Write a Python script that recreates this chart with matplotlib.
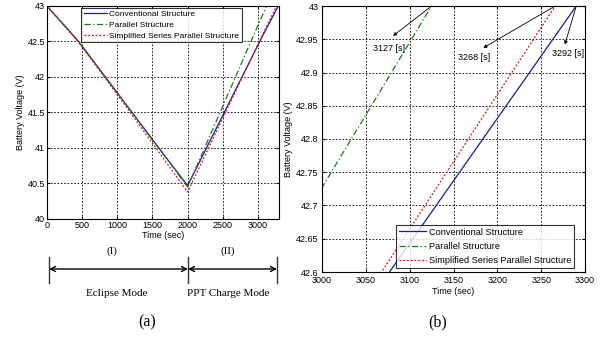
import matplotlib
matplotlib.use("Agg")
import matplotlib.pyplot as plt
import matplotlib.patches as mpatches
from matplotlib.ticker import FuncFormatter

# ---- data ----
conv_t = [0, 450, 830, 1210, 1590, 2000, 3077, 3290]
conv_v = [43.0, 42.5, 42.0, 41.5, 41.0, 40.47, 42.6, 43.0]
par_t = [0, 450, 830, 1210, 1590, 2000, 3000, 3125]
par_v = [43.0, 42.5, 42.0, 41.5, 41.0, 40.45, 42.727, 43.0]
ssp_t = [0, 440, 815, 1185, 1550, 2000, 3068, 3266]
ssp_v = [43.0, 42.5, 42.0, 41.5, 41.0, 40.38, 42.6, 43.0]

series_names = ["Conventional Structure", "Parallel Structure",
                "Simplified Series Parallel Structure"]

xticks_a = [0, 500, 1000, 1500, 2000, 2500, 3000]
yticks_a = [40, 40.5, 41, 41.5, 42, 42.5, 43]
xticks_b = [3000, 3050, 3100, 3150, 3200, 3250, 3300]
yticks_b = [42.6, 42.65, 42.7, 42.75, 42.8, 42.85, 42.9, 42.95, 43]

end_labels = ["3127 [s]", "3268 [s]", "3292 [s]"]

plt.rcParams['font.family'] = ['Liberation Sans', 'DejaVu Sans']

W, H = 600, 339
fig = plt.figure(figsize=(6, 3.39), dpi=100)

def px(x0, y0, x1, y1):
    return [x0 / W, 1 - y1 / H, (x1 - x0) / W, (y1 - y0) / H]

ax1 = fig.add_axes(px(47, 6, 279, 219))
ax2 = fig.add_axes(px(322, 6, 585, 272))

styles = [dict(color='#1a1aa0', ls='-', lw=0.9),
          dict(color='#1a7a1a', ls=(0, (5, 2, 1, 2)), lw=0.9),
          dict(color='#e01010', ls=(0, (1.5, 1.5)), lw=0.9)]
data = [(conv_t, conv_v), (par_t, par_v), (ssp_t, ssp_v)]

fmt = FuncFormatter(lambda v, p: f"{v:g}")
for ax in (ax1, ax2):
    for (t, v), st, nm in zip(data, styles, series_names):
        ax.plot(t, v, label=nm, **st)
    ax.grid(True, color='black', linestyle=(0, (2, 2)), linewidth=0.6)
    ax.tick_params(labelsize=6.5, direction='in', length=2, pad=1.5,
                   top=True, right=True)
    ax.yaxis.set_major_formatter(fmt)
    ax.set_xlabel("Time (sec)", fontsize=6.5, labelpad=1)
    ax.set_ylabel("Battery Voltage (V)", fontsize=6.5, labelpad=2)
    for s in ax.spines.values():
        s.set_linewidth(0.8)

ax1.set_xlim(0, 3300)
ax1.set_ylim(40, 43)
ax1.set_xticks(xticks_a)
ax1.set_yticks(yticks_a)
ax2.set_xlim(3000, 3300)
ax2.set_ylim(42.6, 43)
ax2.set_xticks(xticks_b)
ax2.set_yticks(yticks_b)
ax2.tick_params(axis='y', pad=2.5)
ax2.tick_params(axis='x', pad=3)

leg_kw = dict(frameon=True, fancybox=False, edgecolor='black',
              handletextpad=0.3, borderpad=0.3, borderaxespad=0.2)
l1 = ax1.legend(loc='upper left', bbox_to_anchor=(0.14, 1.0), fontsize=6,
                handlelength=2.8, labelspacing=0.35, **leg_kw)
l2 = ax2.legend(loc='lower right', bbox_to_anchor=(0.965, 0.01), fontsize=6.6,
                handlelength=3.0, labelspacing=0.55, **leg_kw)
for l in (l1, l2):
    l.get_frame().set_linewidth(0.8)

# annotations in panel (b)
ends = [(par_t[-1], par_v[-1]), (ssp_t[-1], ssp_v[-1]), (conv_t[-1], conv_v[-1])]
text_pos = [(3058, 42.943), (3155, 42.93), (3262, 42.936)]
arrow_tips = [(3081, 42.955), (3184, 42.937), (3277, 42.942)]
for (ex, ey), (tx, ty), (ax_, ay_), lab in zip(ends, text_pos, arrow_tips, end_labels):
    ax2.annotate("", xy=(ax_, ay_), xytext=(ex, ey),
                 arrowprops=dict(arrowstyle='-|>', color='black', lw=0.6,
                                 mutation_scale=5, shrinkA=0, shrinkB=0),
                 annotation_clip=False)
    ax2.text(tx, ty, lab, fontsize=6.5, ha='left', va='top')

# mode annotations below panel (a)
serif = ['Liberation Serif', 'DejaVu Serif']
fig.text(112 / W, 1 - 251 / H, "(I)", family=serif, fontsize=8, ha='center', va='center')
fig.text(228 / W, 1 - 251 / H, "(II)", family=serif, fontsize=8, ha='center', va='center')
for xb in (49, 188, 277):
    fig.add_artist(plt.Line2D([xb / W, xb / W], [1 - 257 / H, 1 - 283 / H],
                              color='#333333', lw=1.0))
for x0, x1 in ((49, 188), (188, 277)):
    fig.add_artist(mpatches.FancyArrowPatch(
        (x0 / W, 1 - 269 / H), (x1 / W, 1 - 269 / H),
        transform=fig.transFigure, arrowstyle='<->', mutation_scale=9,
        color='black', lw=1.0, shrinkA=0, shrinkB=0))
fig.text(117 / W, 1 - 294 / H, "Eclipse Mode", family=serif, fontsize=8, ha='center', va='center')
fig.text(228 / W, 1 - 294 / H, "PPT Charge Mode", family=serif, fontsize=8, ha='center', va='center')
fig.text(147 / W, 1 - 322 / H, "(a)", family=serif, fontsize=11.5, ha='center', va='center')
fig.text(438 / W, 1 - 322 / H, "(b)", family=serif, fontsize=11.5, ha='center', va='center')

fig.savefig("out.png", dpi=100)
